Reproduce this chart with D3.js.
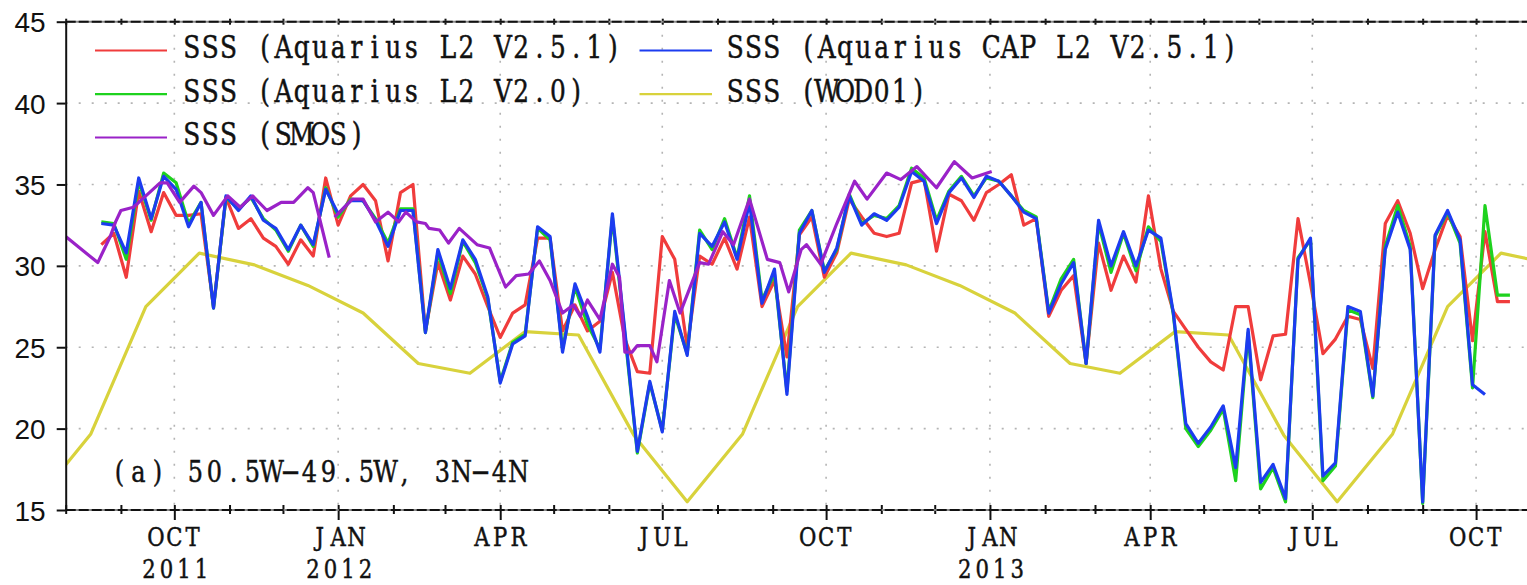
<!DOCTYPE html>
<html><head><meta charset="utf-8">
<script src="https://cdn.jsdelivr.net/npm/d3@7"></script>
<style>
html,body{margin:0;padding:0;background:#fff;overflow:hidden}
text{white-space:pre}
</style></head>
<body><svg id="chart" width="1527" height="585"></svg>
<script>
// Weekly Aquarius composites start on this date, one value per week
const weekStart = "2011-08-21";

const capL2v251 = [32.6,32.5,30.8,35.4,32.9,35.5,34.7,32.4,33.9,27.4,
  34.3,33.4,34.3,32.8,32.3,31.0,32.5,31.3,34.7,33.2,
  34.0,34.0,32.8,31.2,33.4,33.4,25.9,31.0,28.6,31.6,
  30.4,28.1,22.8,25.2,25.7,32.4,31.8,24.7,28.9,26.9,
  24.7,33.2,26.0,18.6,22.9,19.8,27.2,24.5,32.0,31.2,
  32.7,30.4,33.9,27.7,29.8,22.1,32.0,33.4,29.6,31.1,
  34.3,32.5,33.2,32.8,33.6,35.8,35.2,32.6,34.5,35.4,
  34.2,35.5,35.2,34.3,33.3,32.9,27.1,28.9,30.2,24.0,
  32.8,30.0,32.1,30.0,32.2,31.7,27.1,20.3,19.1,20.1,
  21.4,17.6,26.1,16.7,17.8,15.7,30.4,31.7,17.1,17.9,
  27.5,27.2,22.0,31.0,33.3,31.0,15.5,31.9,33.4,31.6,
  22.7,22.1,null,null];

const l2v251 = [31.3,32.0,29.3,34.6,32.1,34.5,33.1,33.1,33.2,27.5,
  34.2,32.3,32.9,31.7,31.2,30.1,31.6,30.6,35.4,32.5,
  34.3,35.0,34.0,30.3,34.5,35.0,26.0,30.2,27.9,30.6,
  29.5,27.5,25.6,27.1,27.6,31.7,31.7,26.0,27.6,26.0,
  26.6,29.6,25.5,23.5,23.4,31.8,30.4,25.0,30.6,30.1,
  31.7,29.8,33.0,27.5,29.1,24.4,31.9,33.0,29.3,30.8,
  34.1,33.0,32.0,31.8,32.0,35.1,35.3,30.9,34.4,34.0,
  32.8,34.5,35.0,35.6,32.5,32.9,26.9,28.5,29.4,24.0,
  31.4,28.5,30.6,29.0,34.3,29.8,27.2,26.1,25.0,24.1,
  23.6,27.5,27.5,23.0,25.7,25.8,32.9,28.9,24.6,25.5,
  26.9,26.7,23.7,32.6,34.0,32.0,28.6,31.0,33.1,31.8,
  25.4,32.1,27.8,27.8];

const l2v20 = [32.7,32.6,30.4,35.2,32.8,35.7,35.1,32.6,33.9,27.4,
  34.2,33.5,34.2,32.9,32.2,30.9,32.5,31.2,34.8,33.0,
  34.1,34.0,32.9,31.4,33.5,33.5,25.9,30.8,28.3,31.5,
  30.2,28.0,22.9,25.3,25.8,32.3,31.6,24.9,28.7,26.4,
  24.9,33.0,25.8,18.5,22.8,19.9,27.0,24.6,32.2,31.0,
  32.9,30.5,34.3,27.9,29.5,22.3,32.2,33.4,29.7,31.0,
  34.4,32.6,33.1,32.9,33.7,36.0,35.4,32.8,34.6,35.5,
  34.3,35.4,35.2,34.3,33.4,33.0,27.2,29.2,30.4,24.0,
  32.6,29.6,32.0,29.7,32.4,31.5,27.0,20.0,18.9,19.9,
  21.2,16.8,25.9,16.3,17.6,15.5,30.5,31.6,16.8,17.7,
  27.3,27.0,21.9,31.2,33.7,31.2,15.4,31.8,33.3,31.4,
  22.5,33.7,28.2,28.2];

// SMOS series (irregular sampling; null marks a gap)
const smosDates = ["2011-08-01","2011-08-19","2011-08-26","2011-08-29","2011-09-01",
  "2011-09-08","2011-09-15","2011-09-23","2011-09-27","2011-10-04","2011-10-12",
  "2011-10-16","2011-10-23","2011-10-31","2011-11-07","2011-11-14","2011-11-22",
  "2011-11-30","2011-12-07","2011-12-15","2011-12-18","2011-12-27","2011-12-28",
  "2011-12-30","2012-01-09","2012-01-15","2012-01-22","2012-01-29","2012-02-04",
  "2012-02-08","2012-02-14","2012-02-19","2012-02-21","2012-02-27","2012-03-03",
  "2012-03-09","2012-03-19","2012-03-26","2012-04-04","2012-04-10","2012-04-17",
  "2012-04-23","2012-04-29","2012-05-06","2012-05-12","2012-05-16","2012-05-20",
  "2012-05-27","2012-06-03","2012-06-07","2012-06-10","2012-06-14","2012-06-17",
  "2012-06-24","2012-06-28","2012-07-05","2012-07-11","2012-07-22","2012-07-27",
  "2012-08-04","2012-08-10","2012-08-19","2012-08-29","2012-09-05","2012-09-10",
  "2012-09-17","2012-09-20","2012-09-28","2012-10-07","2012-10-17","2012-10-24",
  "2012-11-04","2012-11-12","2012-11-21","2012-12-02","2012-12-12","2012-12-22",
  "2013-01-02"];
const smosValues = [31.8,30.2,31.8,32.7,33.4,
  33.6,34.3,35.1,35.1,33.9,34.9,
  34.5,33.1,34.3,33.6,34.3,33.4,
  33.9,33.9,34.8,34.5,30.5,null,
  33.0,34.1,34.1,32.7,33.3,32.7,
  33.3,32.7,32.6,32.3,32.2,31.4,
  32.3,31.3,31.1,28.7,29.4,29.5,
  30.3,29.1,27.1,27.6,26.9,27.9,
  26.7,30.1,29.3,24.7,24.7,25.1,
  25.1,24.1,29.1,27.1,30.2,30.1,
  32.1,31.3,34.1,30.4,30.2,28.4,
  31.0,31.3,30.1,32.6,35.2,34.1,
  35.7,35.3,36.1,34.8,36.4,35.4,
  35.8];

// WOD01 monthly climatology, plotted at mid-month
const wodDates = ["2011-07-15","2011-08-15","2011-09-15","2011-10-15","2011-11-15","2011-12-15",
  "2012-01-15","2012-02-15","2012-03-15","2012-04-15","2012-05-15","2012-06-15",
  "2012-07-15","2012-08-15","2012-09-15","2012-10-15","2012-11-15","2012-12-15",
  "2013-01-15","2013-02-15","2013-03-15","2013-04-15","2013-05-15","2013-06-15",
  "2013-07-15","2013-08-15","2013-09-15","2013-10-15","2013-11-15"];
const wodValues = [15.5,19.65,27.5,30.78,30.06,28.8,
  27.1,24.0,23.4,25.96,25.75,19.6,
  15.5,19.65,27.5,30.78,30.06,28.8,
  27.1,24.0,23.4,25.96,25.75,19.6,
  15.5,19.65,27.5,30.78,30.06];

const quarterDates = ["2011-10-01","2012-01-01","2012-04-01","2012-07-01","2012-10-01",
  "2013-01-01","2013-04-01","2013-07-01","2013-10-01"];
const quarterLabels = ["OCT","JAN","APR","JUL","OCT","JAN","APR","JUL","OCT"];
const yearLabels = ["2011","2012","","","","2013","","",""];
const yTicks = [15,20,25,30,35,40,45];

const seriesNames = ["SSS (Aquarius L2 V2.5.1)","SSS (Aquarius CAP L2 V2.5.1)",
  "SSS (Aquarius L2 V2.0)","SSS (WOD01)","SSS (SMOS)"];

// ---- drawing ----
const C = {red:"#f03c3c", blue:"#1c3cf0", green:"#1ed21e", yellow:"#d8d23c", purple:"#9a22c8", ink:"#111"};
const parse = d3.utcParse("%Y-%m-%d");
const svg = d3.select("#chart");

const X0 = 65.7, X1 = 1531.3, YB = 510, YT = 21.7;
const x = d3.scaleUtc().domain([parse("2011-08-01"), parse("2013-11-01")]).range([X0, X1]);
const y = d3.scaleLinear().domain([15, 45]).range([YB, YT]);

// Fixed-pitch serif text: one <text> per label, each character centred in its
// own cell through an x-position list; glyphs squeezed horizontally by SX.
const serif = "'DejaVu Serif','Liberation Serif',serif";
const SX = 0.8;
function pitchText(g, str, x0, yb, size, cw){
  const xs = Array.from(str).map((c, i) => ((x0 + (i + 0.5) * cw) / SX).toFixed(2)).join(" ");
  return g.append("text").attr("transform", `scale(${SX},1)`)
    .attr("font-family", serif).attr("font-size", size)
    .attr("fill", C.ink).attr("stroke", C.ink).attr("stroke-width", 0.5)
    .attr("text-anchor", "middle").attr("xml:space", "preserve")
    .attr("x", xs).attr("y", yb).text(str);
}

// grid
const grid = svg.append("g").attr("stroke", "#b4b4b4").attr("stroke-width", 1.6)
  .attr("stroke-dasharray", "2,11");
grid.selectAll("line.h").data(yTicks.filter(v => v > 15 && v < 45)).join("line")
  .attr("x1", X0).attr("x2", 1527).attr("y1", d => y(d)).attr("y2", d => y(d));
grid.selectAll("line.v").data(quarterDates.map(parse)).join("line")
  .attr("x1", d => x(d)).attr("x2", d => x(d)).attr("y1", YT).attr("y2", YB);

// data lines
svg.append("clipPath").attr("id", "plot").append("rect")
  .attr("x", X0).attr("y", YT).attr("width", X1 - X0).attr("height", YB - YT);
const plot = svg.append("g").attr("clip-path", "url(#plot)");
const line = d3.line().defined(d => d.v != null).x(d => x(d.t)).y(d => y(d.v));
const t0 = parse(weekStart);
const weekly = vals => vals.map((v, i) => ({t: d3.utcDay.offset(t0, 7 * i), v}));
const paired = (ds, vs) => ds.map((d, i) => ({t: parse(d), v: vs[i]}));

const layers = [
  {data: paired(wodDates, wodValues), color: C.yellow},
  {data: weekly(l2v251), color: C.red},
  {data: weekly(l2v20), color: C.green},
  {data: weekly(capL2v251), color: C.blue},
  {data: paired(smosDates, smosValues), color: C.purple}
];
plot.selectAll("path.s").data(layers).join("path")
  .attr("fill", "none").attr("stroke", d => d.color).attr("stroke-width", 3.2)
  .attr("stroke-linejoin", "round").attr("d", d => line(d.data));

// axes
const months = d3.utcMonth.range(parse("2011-08-01"), parse("2013-11-02"));
const isQuarter = d => d.getUTCMonth() % 3 === 0;

const axB = svg.append("g").attr("transform", `translate(0,${YB})`)
  .call(d3.axisBottom(x).tickValues(months).tickSize(4).tickFormat(""));
axB.select(".domain").remove();
axB.selectAll(".tick line").attr("y1", -5).attr("y2", d => isQuarter(d) ? 10 : 4)
  .attr("stroke", C.ink).attr("stroke-width", 2);

const axT = svg.append("g").attr("transform", `translate(0,${YT})`)
  .call(d3.axisTop(x).tickValues(months).tickSize(3).tickFormat(""));
axT.select(".domain").remove();
axT.selectAll(".tick line").attr("y1", -3).attr("y2", 3).attr("stroke", C.ink).attr("stroke-width", 2);

// top and bottom frame lines (dashed over grey), left frame solid
[YT, YB].forEach(yy => {
  svg.append("line").attr("x1", X0).attr("x2", 1527).attr("y1", yy).attr("y2", yy)
    .attr("stroke", "#8a8a8a").attr("stroke-width", 2);
  svg.append("line").attr("x1", X0).attr("x2", 1527).attr("y1", yy).attr("y2", yy)
    .attr("stroke", C.ink).attr("stroke-width", 2).attr("stroke-dasharray", "10,3");
});

const axL = svg.append("g").attr("transform", `translate(${X0},0)`)
  .call(d3.axisLeft(y).tickValues(yTicks).tickSize(9).tickPadding(11).tickSizeOuter(0));
axL.select(".domain").attr("stroke", C.ink).attr("stroke-width", 2);
axL.selectAll(".tick line").attr("stroke", C.ink).attr("stroke-width", 2);
axL.selectAll(".tick text").attr("font-family", "'Liberation Sans',Arial,sans-serif")
  .attr("font-size", 28).attr("fill", C.ink).attr("dy", "0.36em");

// x labels: month, and the year beneath it where the year changes
const xl = svg.append("g");
quarterDates.forEach((d, i) => {
  const cx = x(parse(d));
  const m = quarterLabels[i], yr = yearLabels[i];
  pitchText(xl, m, cx - m.length * 18.3 / 2, 546.5, 26.5, 18.3);
  if (yr) pitchText(xl, yr, cx - yr.length * 17.5 / 2 + 1, 578.5, 26.5, 17.5);
});

// legend
const legendColors = [C.red, C.blue, C.green, C.yellow, C.purple];
const colX = [[95, 167, 182.7], [639.5, 712, 726]];
const rowY = [58, 101.7, 145];
const lg = svg.append("g");
seriesNames.forEach((name, i) => {
  const col = i < 4 ? i % 2 : 0, row = i < 4 ? Math.floor(i / 2) : 2;
  const [lx1, lx2, tx] = colX[col];
  const by = rowY[row];
  lg.append("line").attr("x1", lx1).attr("x2", lx2).attr("y1", by - 7.5).attr("y2", by - 7.5)
    .attr("stroke", legendColors[i]).attr("stroke-width", 2.2);
  pitchText(lg, name, tx, by, 31, 18.3);
});

// region annotation
pitchText(svg, "(a) 50.5W\u221249.5W, 3N\u22124N", 110, 482, 30, 19);
</script>
</body></html>
